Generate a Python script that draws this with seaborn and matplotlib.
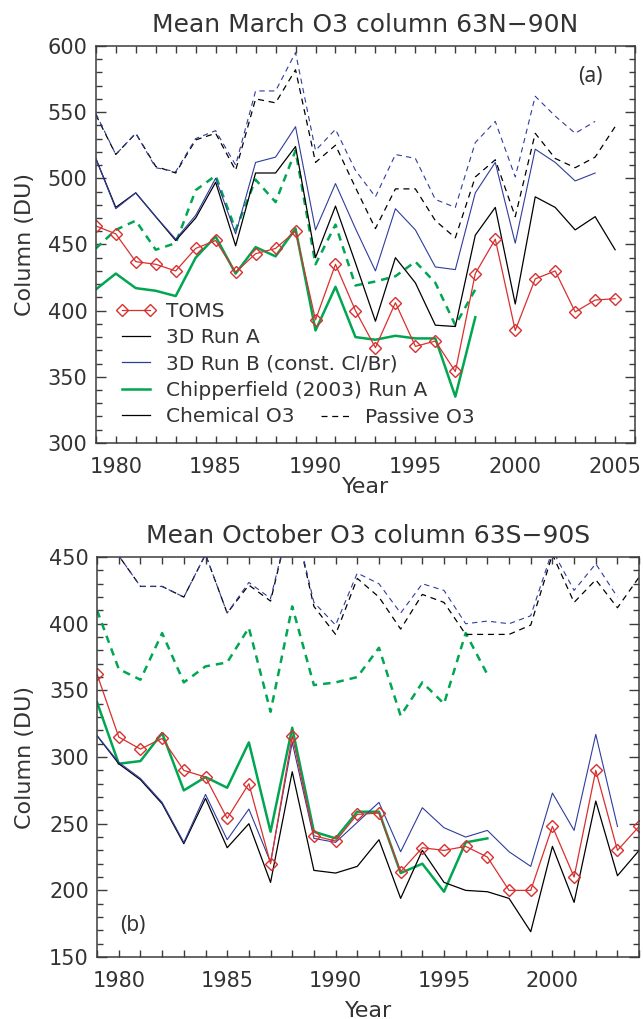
import numpy as np
import seaborn as sns
import matplotlib.pyplot as plt
from matplotlib.lines import Line2D
from matplotlib.ticker import MultipleLocator

# ---- Mean March O3 column 63N-90N (DU), series start in 1979 ----
toms_mar = [464, 458, 437, 435, 430, 447, 453, 429, 443, 447, 460, 393, 435, 400,
            372, 406, 373, 377, 354, 428, 454, 385, 424, 430, 399, 408, 409]
runA_mar = [515, 478, 489, 471, 453, 470, 497, 449, 504, 504, 524, 440, 479, 436,
            392, 440, 421, 389, 388, 457, 478, 405, 486, 478, 461, 471, 446]
runB_mar = [515, 477, 489, 471, 454, 472, 500, 458, 512, 516, 539, 461, 496, 462,
            430, 477, 461, 433, 431, 489, 512, 451, 522, 512, 498, 504]
chip_mar = [416, 428, 417, 415, 411, 440, 456, 428, 448, 441, 462, 385, 418, 380,
            378, 381, 379, 379, 335, 395]
passA_mar = [548, 518, 534, 509, 504, 529, 534, 506, 560, 557, 582, 512, 525, 493,
             462, 492, 492, 468, 455, 501, 514, 471, 534, 515, 508, 516, 539]
passB_mar = [549, 518, 534, 508, 505, 530, 536, 510, 566, 566, 595, 521, 537, 506,
             486, 518, 515, 484, 478, 527, 543, 501, 562, 547, 534, 543]
passChip_mar = [447, 461, 468, 446, 451, 491, 502, 461, 499, 482, 521, 435, 465, 419,
                422, 426, 437, 421, 389, 416]

# ---- Mean October O3 column 63S-90S (DU), series start in 1979 ----
toms_oct = [362, 315, 306, 314, 290, 285, 254, 280, 220, 316, 241, 237, 257, 258,
            214, 232, 230, 233, 225, 200, 200, 248, 210, 290, 230, 248]
runA_oct = [316, 295, 283, 265, 235, 269, 232, 250, 206, 289, 215, 213, 218, 238,
            194, 230, 206, 200, 199, 194, 169, 233, 191, 267, 211, 230]
runB_oct = [316, 296, 284, 266, 236, 272, 238, 261, 221, 311, 239, 236, 251, 266,
            229, 262, 247, 240, 245, 229, 218, 273, 245, 317, 248]
chip_oct = [341, 295, 297, 318, 275, 285, 277, 311, 244, 322, 244, 239, 259, 259,
            213, 220, 199, 236, 239]
passA_oct = [475, 451, 428, 428, 420, 452, 408, 429, 417, 485, 413, 392, 434, 420,
             396, 422, 416, 392, 392, 392, 399, 452, 416, 433, 412, 435]
passB_oct = [475, 451, 428, 428, 420, 452, 408, 431, 419, 485, 416, 399, 438, 430,
             408, 430, 425, 400, 402, 400, 406, 455, 425, 445, 420]
passChip_oct = [410, 366, 358, 393, 356, 368, 371, 397, 334, 413, 354, 356, 360, 382,
                331, 356, 340, 393, 362]

RED = "#d8302e"
BLUE = "#2f3c9e"
GREEN = "#00a651"
TXT = "#333333"

plt.rcParams['font.family'] = ['DejaVu Sans']
plt.rcParams['text.color'] = TXT
plt.rcParams['axes.labelcolor'] = TXT

DASH_K = (0, (4.8, 3.8))
DASH_G = (0, (3.0, 2.4))


def draw(ax, vals, color, lw, ls='-', **kw):
    yrs = np.arange(1979, 1979 + len(vals))
    sns.lineplot(x=yrs, y=vals, ax=ax, color=color, lw=lw, linestyle=ls,
                 legend=False, **kw)


def panel(ax, toms, runA, runB, chip, passA, passB, passChip):
    draw(ax, passChip, GREEN, 1.8, DASH_G)
    draw(ax, passA, 'black', 0.9, DASH_K)
    draw(ax, passB, BLUE, 0.8, DASH_K)
    draw(ax, chip, GREEN, 1.8)
    draw(ax, runA, 'black', 0.9)
    draw(ax, runB, BLUE, 0.8)
    draw(ax, toms, RED, 0.9, marker='D', markersize=6, markerfacecolor='none',
         markeredgecolor=RED, markeredgewidth=1.0)


def style(ax, xmax, ymin, ymax, title):
    ax.set_xlim(1979, xmax)
    ax.set_ylim(ymin, ymax)
    ax.set_xticks(range(1980, xmax + 1, 5))
    ax.xaxis.set_minor_locator(MultipleLocator(1))
    ax.yaxis.set_major_locator(MultipleLocator(50))
    ax.yaxis.set_minor_locator(MultipleLocator(10))
    ax.tick_params(which='both', direction='in', top=True, right=True,
                   color='#3c3c3c', labelcolor=TXT, labelsize=15, width=1.0)
    ax.tick_params(axis='x', which='both', length=5, pad=10)
    ax.tick_params(axis='y', which='major', length=7.2, pad=6)
    ax.tick_params(axis='y', which='minor', length=4.3)
    for s in ax.spines.values():
        s.set_color('#3c3c3c')
        s.set_linewidth(1.1)
    ax.set_xlabel("Year", fontsize=16)
    ax.set_ylabel("Column (DU)", fontsize=16)
    ax.set_title(title, fontsize=18, pad=10, color=TXT)


fig = plt.figure(figsize=(6.43, 10.19), dpi=100)
ax1 = fig.add_axes([0.149, 0.5653, 0.8387, 0.3896])
ax2 = fig.add_axes([0.151, 0.0608, 0.8430, 0.3925])

panel(ax1, toms_mar, runA_mar, runB_mar, chip_mar, passA_mar, passB_mar, passChip_mar)
panel(ax2, toms_oct, runA_oct, runB_oct, chip_oct, passA_oct, passB_oct, passChip_oct)

style(ax1, 2006, 300, 600, "Mean March O3 column 63N\u221290N")
style(ax2, 2004, 150, 450, "Mean October O3 column 63S\u221290S")

ax1.yaxis.set_label_coords(-0.113, 0.5)
ax2.yaxis.set_label_coords(-0.114, 0.5)
ax1.xaxis.set_label_coords(0.5, -0.085)
ax2.xaxis.set_label_coords(0.5, -0.11)

ax1.text(0.918, 0.922, "(a)", transform=ax1.transAxes, ha='center', va='center',
         fontsize=15, family='Noto Sans', color=TXT)
ax2.text(0.065, 0.08, "(b)", transform=ax2.transAxes, ha='center', va='center',
         fontsize=15, family='Noto Sans', color=TXT)

# legend of panel (a)
handles = [
    Line2D([], [], color=RED, lw=0.9, marker='D', ms=6, mfc='none', mec=RED, mew=1.0),
    Line2D([], [], color='black', lw=0.9),
    Line2D([], [], color=BLUE, lw=0.9),
    Line2D([], [], color=GREEN, lw=1.8),
    Line2D([], [], color='black', lw=0.9),
]
labels = ["TOMS", "3D Run A", "3D Run B (const. Cl/Br)",
          "Chipperfield (2003) Run A", "Chemical O3"]
leg_kw = dict(frameon=False, fontsize=14.5, handlelength=2.0, handletextpad=0.5,
              labelspacing=0.37, borderpad=0, borderaxespad=0, numpoints=2)
leg1 = ax1.legend(handles, labels, loc='center left', bbox_to_anchor=(0.037, 0.199), **leg_kw)
ax1.add_artist(leg1)
ax1.legend([Line2D([], [], color='black', lw=0.9, linestyle=DASH_K)], ["Passive O3"],
           loc='center left', bbox_to_anchor=(0.406, 0.065), **leg_kw)

fig.savefig("out.png", dpi=100)
